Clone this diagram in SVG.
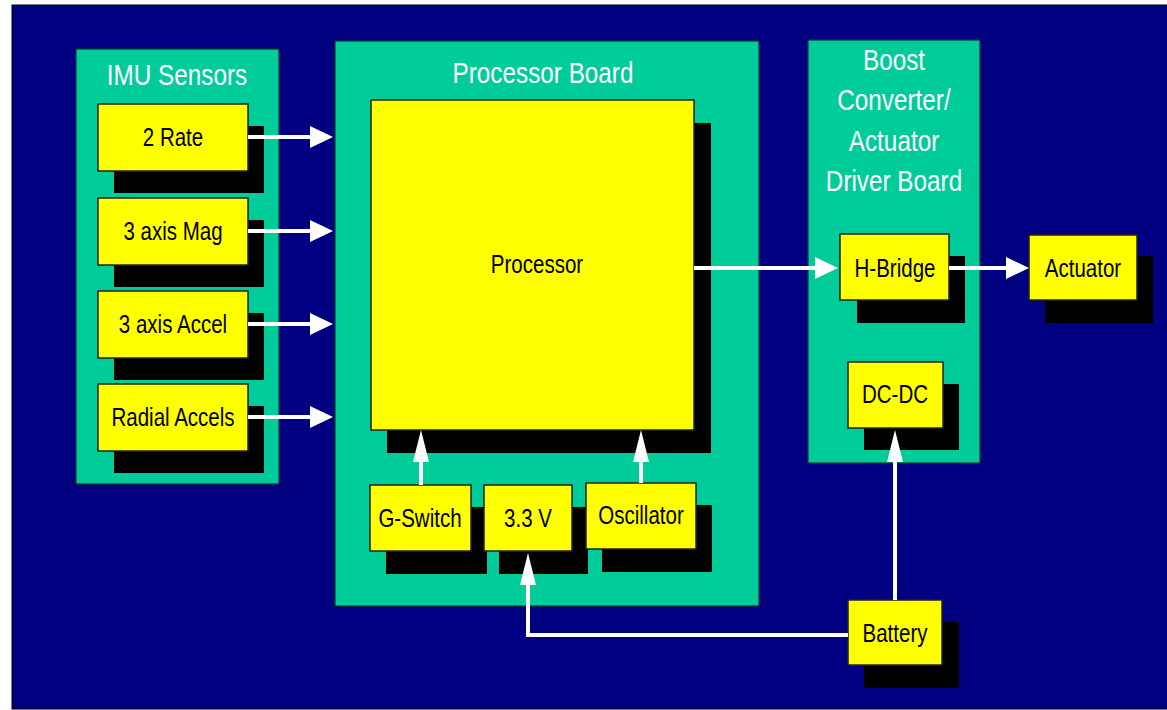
<svg xmlns="http://www.w3.org/2000/svg" width="1167" height="710" viewBox="0 0 1167 710">
<defs>
<style>
.bg{fill:#000080;stroke:#000;stroke-width:1}
.panel{fill:#00CC99;stroke:#0a3a2a;stroke-width:1.2}
.box{fill:#FFFF00;stroke:#222;stroke-width:1.5}
.sh{fill:#000}
.title{font-family:"Liberation Sans",Arial,sans-serif;font-size:30px;fill:#fff;text-anchor:middle}
.lbl{font-family:"Liberation Sans",Arial,sans-serif;font-size:25px;fill:#000;text-anchor:middle}
.wire{fill:none;stroke:#fff;stroke-width:4}
</style>
<marker id="ah" markerUnits="userSpaceOnUse" viewBox="0 -12 24 24" markerWidth="24" markerHeight="24" refX="0" refY="0" orient="auto"><path d="M0,-11 L23,0 L0,11 z" fill="#fff"/></marker>
<marker id="av" markerUnits="userSpaceOnUse" viewBox="0 -9 33 18" markerWidth="33" markerHeight="18" refX="0" refY="0" orient="auto"><path d="M0,-8 L32,0 L0,8 z" fill="#fff"/></marker>
</defs>
<rect width="1167" height="710" fill="#fff"/>
<rect class="bg" x="12" y="5" width="1160" height="704"/>

<g id="imu-sensors">
<rect class="panel" x="76" y="49" width="203" height="435"/>
<g transform="translate(177,85) scale(0.81,1)"><text class="title" x="0" y="0">IMU Sensors</text></g>
</g>
<g id="processor-board">
<rect class="panel" x="335" y="41" width="424" height="565"/>
<g transform="translate(543,83) scale(0.81,1)"><text class="title" x="0" y="0">Processor Board</text></g>
</g>
<g id="boost-board">
<rect class="panel" x="808" y="40" width="172" height="423"/>
<g transform="translate(894,0) scale(0.81,1)">
<text class="title" x="0" y="70">Boost</text>
<text class="title" x="0" y="110">Converter/</text>
<text class="title" x="0" y="151">Actuator</text>
<text class="title" x="0" y="191">Driver Board</text>
</g>
</g>

<g id="rate">
<rect class="sh" x="114" y="126" width="150" height="67"/>
<rect class="box" x="98" y="104" width="150" height="67"/>
<g transform="translate(173,146) scale(0.82,1)"><text class="lbl" x="0" y="0">2 Rate</text></g>
</g>
<g id="mag">
<rect class="sh" x="114" y="220" width="150" height="67"/>
<rect class="box" x="98" y="198" width="150" height="67"/>
<g transform="translate(173,240) scale(0.82,1)"><text class="lbl" x="0" y="0">3 axis Mag</text></g>
</g>
<g id="accel">
<rect class="sh" x="114" y="313" width="150" height="67"/>
<rect class="box" x="98" y="291" width="150" height="67"/>
<g transform="translate(173,333) scale(0.82,1)"><text class="lbl" x="0" y="0">3 axis Accel</text></g>
</g>
<g id="radial">
<rect class="sh" x="114" y="406" width="150" height="67"/>
<rect class="box" x="98" y="384" width="150" height="67"/>
<g transform="translate(173,426) scale(0.82,1)"><text class="lbl" x="0" y="0">Radial Accels</text></g>
</g>

<g id="processor">
<rect class="sh" x="387" y="123" width="324" height="330"/>
<rect class="box" x="371" y="100" width="323" height="330"/>
<g transform="translate(537,273) scale(0.82,1)"><text class="lbl" x="0" y="0">Processor</text></g>
</g>
<g id="gswitch">
<rect class="sh" x="386" y="507" width="101" height="67"/>
<rect class="box" x="370" y="485" width="101" height="66"/>
<g transform="translate(420,527) scale(0.82,1)"><text class="lbl" x="0" y="0">G-Switch</text></g>
</g>
<g id="v33">
<rect class="sh" x="499" y="507" width="89" height="67"/>
<rect class="box" x="484" y="485" width="88" height="66"/>
<g transform="translate(528,527) scale(0.82,1)"><text class="lbl" x="0" y="0">3.3 V</text></g>
</g>
<g id="oscillator">
<rect class="sh" x="602" y="505" width="110" height="67"/>
<rect class="box" x="586" y="483" width="110" height="66"/>
<g transform="translate(641,524) scale(0.82,1)"><text class="lbl" x="0" y="0">Oscillator</text></g>
</g>

<g id="hbridge">
<rect class="sh" x="857" y="256" width="108" height="67"/>
<rect class="box" x="840" y="234" width="109" height="66"/>
<g transform="translate(895,277) scale(0.82,1)"><text class="lbl" x="0" y="0">H-Bridge</text></g>
</g>
<g id="dcdc">
<rect class="sh" x="864" y="384" width="95" height="66"/>
<rect class="box" x="848" y="362" width="95" height="66"/>
<g transform="translate(895,403) scale(0.82,1)"><text class="lbl" x="0" y="0">DC-DC</text></g>
</g>
<g id="actuator">
<rect class="sh" x="1045" y="256" width="108" height="67"/>
<rect class="box" x="1029" y="235" width="108" height="65"/>
<g transform="translate(1083,277) scale(0.82,1)"><text class="lbl" x="0" y="0">Actuator</text></g>
</g>
<g id="battery">
<rect class="sh" x="864" y="622" width="95" height="66"/>
<rect class="box" x="848" y="600" width="94" height="65"/>
<g transform="translate(895,642) scale(0.82,1)"><text class="lbl" x="0" y="0">Battery</text></g>
</g>

<g id="connectors">
<path class="wire" d="M248,137 H310" marker-end="url(#ah)"/>
<path class="wire" d="M248,231 H310" marker-end="url(#ah)"/>
<path class="wire" d="M248,324 H310" marker-end="url(#ah)"/>
<path class="wire" d="M248,417 H310" marker-end="url(#ah)"/>
<path class="wire" d="M694,268 H815" marker-end="url(#ah)"/>
<path class="wire" d="M949,268 H1006" marker-end="url(#ah)"/>
<path class="wire" d="M421,485 V462" marker-end="url(#av)"/>
<path class="wire" d="M641,483 V462" marker-end="url(#av)"/>
<path class="wire" d="M848,635 H528 V585" marker-end="url(#av)"/>
<path class="wire" d="M895,600 V462" marker-end="url(#av)"/>
</g>
</svg>
